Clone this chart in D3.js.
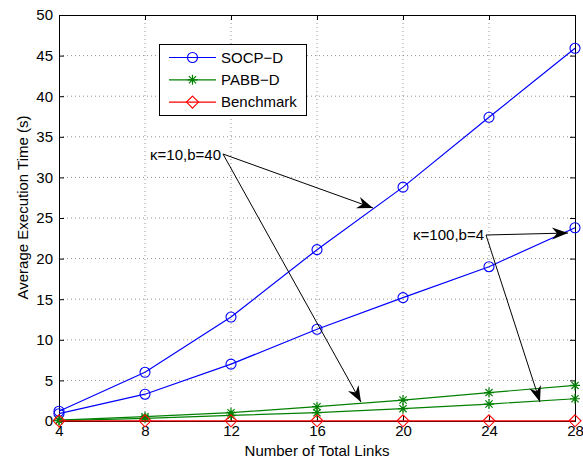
<!DOCTYPE html>
<html><head><meta charset="utf-8">
<script src="https://cdn.jsdelivr.net/npm/d3@7"></script>
<style>body{margin:0;background:#fff}text{font-family:"Liberation Sans",Arial,sans-serif}</style>
</head><body><svg id="c" width="583" height="461"></svg>
<script>
const links = [4, 8, 12, 16, 20, 24, 28];
const socpA = [1.2, 6.0, 12.8, 21.1, 28.8, 37.4, 45.9];   // κ=10,b=40
const socpB = [0.9, 3.3, 7.0, 11.3, 15.2, 19.0, 23.8];    // κ=100,b=4
const pabbA = [0.1, 0.53, 1.02, 1.76, 2.58, 3.5, 4.38];
const pabbB = [0.05, 0.33, 0.69, 1.02, 1.52, 2.09, 2.74];
const bench = [0.02, 0.02, 0.02, 0.02, 0.02, 0.02, 0.02];
const xTicks = [4, 8, 12, 16, 20, 24, 28];
const yTicks = [0, 5, 10, 15, 20, 25, 30, 35, 40, 45, 50];
const legendNames = ["SOCP\u2212D", "PABB\u2212D", "Benchmark"];

const svg = d3.select("#c");
const L = 59, R = 575, T = 15, B = 421;
const x = d3.scaleLinear().domain([4, 28]).range([L, R]);
const y = d3.scaleLinear().domain([0, 50]).range([B, T]);

// grid
const g = svg.append("g");
g.selectAll(".gx").data(xTicks.slice(1, -1)).enter().append("line")
  .attr("x1", d => x(d)).attr("x2", d => x(d)).attr("y1", T).attr("y2", B)
  .attr("stroke", "#777").attr("stroke-width", 0.8).attr("stroke-dasharray", "1,3");
g.selectAll(".gy").data(yTicks.slice(1, -1)).enter().append("line")
  .attr("y1", d => y(d)).attr("y2", d => y(d)).attr("x1", L).attr("x2", R)
  .attr("stroke", "#777").attr("stroke-width", 0.8).attr("stroke-dasharray", "1,3");

// axes
const fs = 15;
const xa = svg.append("g").attr("transform", `translate(0,${B})`)
  .call(d3.axisBottom(x).tickValues(xTicks).tickSize(-5).tickPadding(3));
const xa2 = svg.append("g").attr("transform", `translate(0,${T})`)
  .call(d3.axisTop(x).tickValues(xTicks).tickSize(-5).tickFormat(""));
const ya = svg.append("g").attr("transform", `translate(${L},0)`)
  .call(d3.axisLeft(y).tickValues(yTicks).tickSize(-5).tickPadding(6));
const ya2 = svg.append("g").attr("transform", `translate(${R},0)`)
  .call(d3.axisRight(y).tickValues(yTicks).tickSize(-5).tickFormat(""));
[xa, xa2, ya, ya2].forEach(a => {
  a.selectAll("path").attr("stroke", "#000").attr("stroke-width", 1);
  a.selectAll("line").attr("stroke", "#000");
  a.selectAll("text").attr("font-size", fs).attr("fill", "#000")
    .attr("font-family", '"Liberation Sans",Arial,sans-serif');
});
xa.selectAll("text").attr("dy", "0.8em");

svg.append("text").attr("x", (L + R) / 2).attr("y", 456).attr("text-anchor", "middle")
  .attr("font-size", fs).text("Number of Total Links");
svg.append("text").attr("transform", `translate(28,207.5) rotate(-90)`)
  .attr("text-anchor", "middle").attr("font-size", fs).text("Average Execution Time (s)");

// series
const line = d3.line().x((d, i) => x(links[i])).y(d => y(d));
const blue = "#0000ff", green = "#008000", red = "#ff0000";
function drawLine(data, color) {
  svg.append("path").datum(data).attr("d", line).attr("fill", "none")
    .attr("stroke", color).attr("stroke-width", 1.2);
}
function circle(sel, cx, cy) {
  sel.append("circle").attr("cx", cx).attr("cy", cy).attr("r", 5)
    .attr("fill", "none").attr("stroke", blue).attr("stroke-width", 1.1);
}
function star(sel, cx, cy) {
  const s = 5, d = s * 0.72;
  const p = `M${cx - s},${cy}L${cx + s},${cy}M${cx},${cy - s}L${cx},${cy + s}` +
    `M${cx - d},${cy - d}L${cx + d},${cy + d}M${cx - d},${cy + d}L${cx + d},${cy - d}`;
  sel.append("path").attr("d", p).attr("stroke", green).attr("stroke-width", 1.2).attr("fill", "none");
}
function diamond(sel, cx, cy) {
  const s = 6;
  sel.append("path").attr("d", `M${cx},${cy - s}L${cx + s},${cy}L${cx},${cy + s}L${cx - s},${cy}Z`)
    .attr("fill", "none").attr("stroke", red).attr("stroke-width", 1.1);
}
[[socpA, blue, circle], [socpB, blue, circle], [pabbA, green, star], [pabbB, green, star], [bench, red, diamond]]
  .forEach(([data, col, mk]) => {
    drawLine(data, col);
    const mg = svg.append("g");
    data.forEach((v, i) => mk(mg, x(links[i]), y(v)));
  });

// annotations
function arrow(x1, y1, x2, y2) {
  svg.append("line").attr("x1", x1).attr("y1", y1).attr("x2", x2).attr("y2", y2)
    .attr("stroke", "#000").attr("stroke-width", 1);
  const ang = Math.atan2(y2 - y1, x2 - x1);
  const len = 16, w = 6, back = 11;
  const pt = (a, b) => [x2 + a * Math.cos(ang) - b * Math.sin(ang), y2 + a * Math.sin(ang) + b * Math.cos(ang)];
  const p1 = pt(-len, w), p2 = pt(-back, 0), p3 = pt(-len, -w);
  svg.append("path").attr("d", `M${x2},${y2}L${p1}L${p2}L${p3}Z`).attr("fill", "#000");
}
const ann = [
  { text: "\u03ba=10,b=40", tx: 221, ty: 160, ox: 223, oy: 154, targets: [[373, 208], [361, 402]] },
  { text: "\u03ba=100,b=4", tx: 484, ty: 240, ox: 486, oy: 235, targets: [[568, 233], [540, 402]] }
];
ann.forEach(a => {
  svg.append("text").attr("x", a.tx).attr("y", a.ty).attr("text-anchor", "end")
    .attr("font-size", fs).text(a.text);
  a.targets.forEach(t => arrow(a.ox, a.oy, t[0], t[1]));
});

// legend
const lg = svg.append("g");
lg.append("rect").attr("x", 159.5).attr("y", 44.5).attr("width", 147).attr("height", 71)
  .attr("fill", "#fff").attr("stroke", "#000").attr("stroke-width", 1);
const legendRows = [[blue, circle], [green, star], [red, diamond]];
legendRows.forEach(([col, mk], i) => {
  const ly = 57.5 + i * 22.3;
  lg.append("line").attr("x1", 169).attr("x2", 216).attr("y1", ly).attr("y2", ly)
    .attr("stroke", col).attr("stroke-width", 1.2);
  mk(lg, 192.5, ly);
  lg.append("text").attr("x", 221).attr("y", ly + 5.3).attr("font-size", fs).text(legendNames[i]);
});
</script></body></html>
